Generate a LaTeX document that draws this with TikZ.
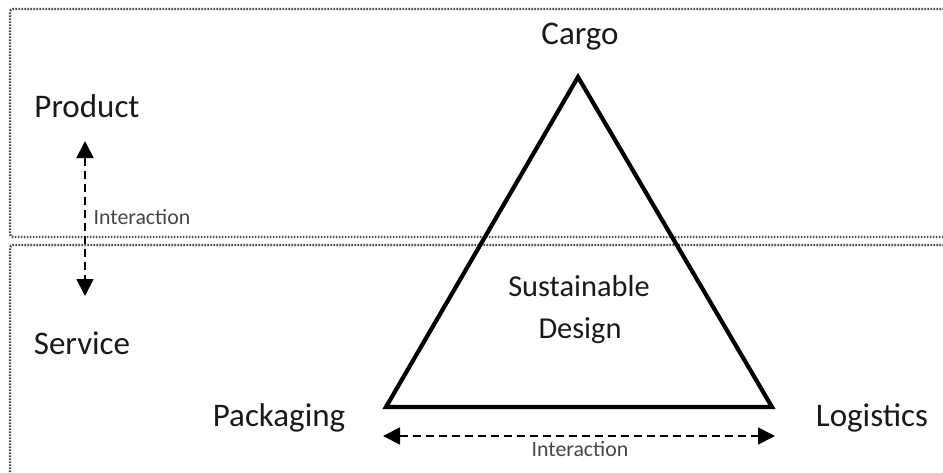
\documentclass[tikz,border=0pt]{standalone}
\usepackage{fontspec}
\setmainfont{Carlito}
\usetikzlibrary{arrows.meta}
\begin{document}
\begin{tikzpicture}[x=1pt,y=-1pt,
  bigtxt/.style={font=\fontsize{33}{37}\selectfont, text=black!90, inner sep=0pt, anchor=base},
  midtxt/.style={font=\fontsize{30.4}{34}\selectfont, text=black!90, inner sep=0pt, anchor=base},
  smalltxt/.style={font=\fontsize{21.8}{25}\selectfont, text=black!72, inner sep=0pt, anchor=base},
  zone/.style={draw=black!70, line width=2.4pt, dash pattern=on 1.6pt off 1.4pt, rounded corners=3pt},
  link/.style={draw=black, line width=1.8pt, dash pattern=on 8pt off 5pt, {Triangle[length=17pt,width=17pt]}-{Triangle[length=17pt,width=17pt]}},
  tri/.style={draw=black, line width=4.2pt, line join=miter}]
\useasboundingbox (0,0) rectangle (943,472);
% zones
\draw[zone] (950,9) -- (10,9) -- (10,237) -- (950,237);
\draw[zone] (950,245) -- (10,245) -- (10,480);
% triangle
\coordinate (apex) at (578,77);
\coordinate (bl) at (386,407);
\coordinate (br) at (772,407);
\draw[tri] (apex) -- (bl) -- (br) -- cycle;
% labels
\node[bigtxt] (cargo) at (580,44) {Cargo};
\node[bigtxt] (product) at (87,117) {Product};
\node[bigtxt] (service) at (82,354) {Service};
\node[bigtxt] (packaging) at (279,426) {Packaging};
\node[bigtxt] (logistics) at (872,426) {Logistics};
\node[midtxt] (sust) at (579,296) {Sustainable};
\node[midtxt] (design) at (580,338) {Design};
\node[smalltxt] (int1) at (142,224) {Interaction};
\node[smalltxt] (int2) at (580,456) {Interaction};
% interaction arrows
\coordinate (vtop) at (85,141);
\coordinate (vbot) at (85,296);
\coordinate (hl) at (383,436);
\coordinate (hr) at (775,436);
\draw[link] (vtop) -- (vbot);
\draw[link] (hl) -- (hr);
\end{tikzpicture}
\end{document}
